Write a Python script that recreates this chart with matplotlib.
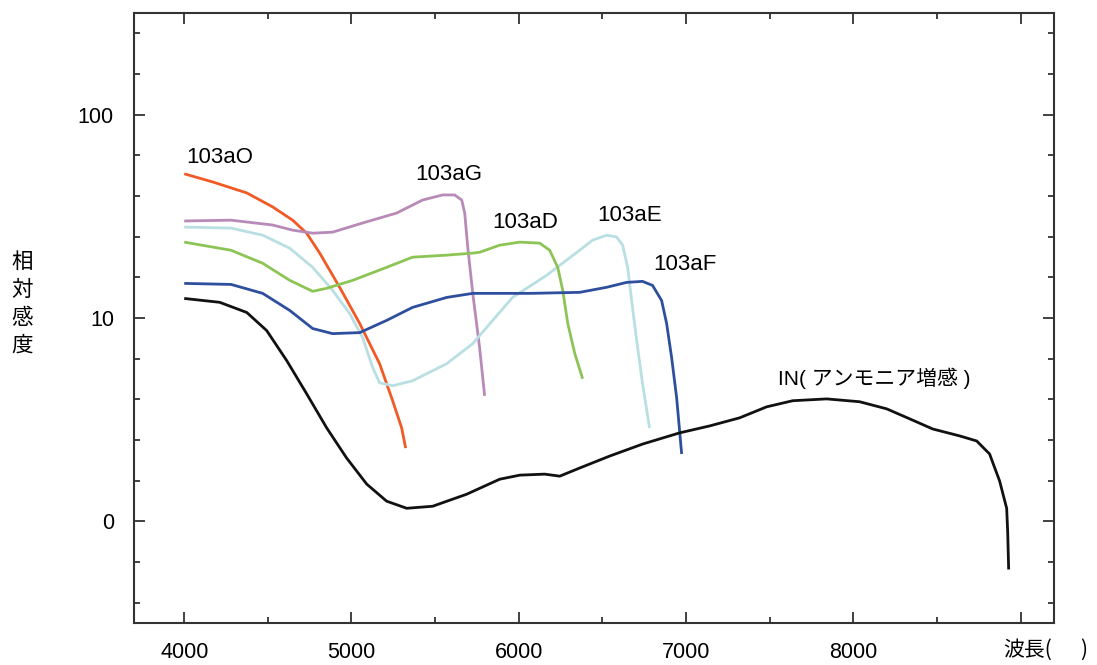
import matplotlib
matplotlib.use("Agg")
import matplotlib.pyplot as plt
from matplotlib.ticker import MultipleLocator, FixedLocator

plt.rcParams["font.family"] = ["Liberation Sans", "Noto Sans CJK JP", "DejaVu Sans"]

# y values are in decades: 0 -> "0", 1 -> "10", 2 -> "100"
wl_aO = [4000, 4170, 4374, 4529, 4648, 4732, 4810, 4929, 5049, 5168, 5246, 5300, 5324]
s_aO = [1.709, 1.669, 1.615, 1.546, 1.481, 1.417, 1.319, 1.151, 0.973, 0.775, 0.593, 0.459, 0.360]

wl_aG = [4000, 4280, 4529, 4648, 4768, 4887, 5066, 5270, 5425, 5545, 5617, 5659, 5677,
         5695, 5725, 5766, 5796]
s_aG = [1.477, 1.481, 1.457, 1.432, 1.417, 1.422, 1.467, 1.516, 1.580, 1.605, 1.605, 1.580, 1.516,
        1.348, 1.121, 0.854, 0.617]

wl_aE = [4000, 4280, 4469, 4631, 4768, 4887, 4989, 5066, 5127, 5168, 5246, 5365, 5569, 5725,
         5844, 5963, 6167, 6364, 6442, 6526, 6585, 6621, 6651, 6675, 6705, 6740, 6782]
s_aE = [1.447, 1.442, 1.407, 1.343, 1.249, 1.136, 1.022, 0.904, 0.756, 0.681, 0.667, 0.691, 0.775, 0.874,
        0.988, 1.101, 1.210, 1.333, 1.383, 1.407, 1.398, 1.358, 1.249, 1.086, 0.889, 0.677, 0.459]

wl_aD = [4000, 4280, 4469, 4631, 4768, 4852, 5007, 5210, 5365, 5569, 5725, 5766, 5886, 6006,
         6125, 6185, 6233, 6263, 6293, 6335, 6382]
s_aD = [1.373, 1.333, 1.269, 1.185, 1.131, 1.146, 1.185, 1.249, 1.299, 1.309, 1.319, 1.323, 1.358, 1.373,
        1.368, 1.333, 1.249, 1.136, 0.973, 0.825, 0.701]

wl_aF = [4000, 4280, 4469, 4631, 4768, 4887, 5049, 5210, 5365, 5569, 5725, 5766, 6065, 6364,
         6526, 6645, 6740, 6800, 6854, 6884, 6914, 6944, 6974]
s_aF = [1.170, 1.165, 1.121, 1.037, 0.948, 0.923, 0.928, 0.988, 1.052, 1.101, 1.121, 1.121, 1.121, 1.126,
        1.151, 1.175, 1.180, 1.160, 1.086, 0.973, 0.805, 0.607, 0.331]

wl_IN = [4000, 4212, 4374, 4493, 4613, 4732, 4852, 4971, 5091, 5210, 5330, 5485, 5688, 5886,
         6006, 6155, 6245, 6364, 6544, 6741, 6962, 7141, 7321, 7482, 7638, 7841, 8038, 8200,
         8337, 8475, 8636, 8738, 8815, 8875, 8917, 8923, 8929]
s_IN = [1.096, 1.077, 1.027, 0.938, 0.790, 0.627, 0.459, 0.311, 0.183, 0.099, 0.064, 0.074, 0.133, 0.207,
        0.227, 0.232, 0.222, 0.262, 0.321, 0.380, 0.435, 0.469, 0.509, 0.563, 0.593, 0.602, 0.588, 0.553,
        0.504, 0.454, 0.420, 0.395, 0.331, 0.198, 0.064, -0.049, -0.237]

series = [
    (wl_aO, s_aO, "#f15a24"),
    (wl_aG, s_aG, "#b88ab8"),
    (wl_aE, s_aE, "#b9dfe3"),
    (wl_aD, s_aD, "#8dc456"),
    (wl_aF, s_aF, "#2e4f9e"),
    (wl_IN, s_IN, "#111111"),
]

labels = ["103aO", "103aG", "103aD", "103aE", "103aF", "IN( アンモニア増感 )"]
label_pos = [(4010, 1.79), (5380, 1.705), (5840, 1.47), (6470, 1.505), (6805, 1.265), (7550, 0.705)]
label_size = [16, 16, 16, 16, 16, 15]

y_ticks = [0, 1, 2]
y_ticklabels = ["0", "10", "100"]
x_ticks = [4000, 5000, 6000, 7000, 8000]

fig = plt.figure(figsize=(10.97, 6.65), dpi=100)
ax = fig.add_axes([0.1222, 0.0632, 0.8386, 0.9173])

for wl, s, c in series:
    ax.plot(wl, s, color=c, lw=2.0, solid_joinstyle="round", solid_capstyle="butt")

for txt, (x, y), fs in zip(labels, label_pos, label_size):
    ax.text(x, y, txt, fontsize=fs, ha="left", va="center")

ax.set_xlim(3700, 9200)
ax.set_ylim(-0.5, 2.5)
ax.xaxis.set_major_locator(FixedLocator(x_ticks + [9000]))
ax.set_xticklabels([str(v) for v in x_ticks] + [""])
ax.xaxis.set_minor_locator(MultipleLocator(500))
ax.yaxis.set_major_locator(FixedLocator(y_ticks))
ax.set_yticklabels(y_ticklabels)
ax.yaxis.set_minor_locator(MultipleLocator(0.2))

ax.tick_params(which="both", direction="in", top=True, right=True, color="#333333", width=1.3)
ax.tick_params(which="major", length=8, labelsize=15.5)
ax.tick_params(which="minor", length=4)
ax.tick_params(axis="x", which="major", pad=14)
ax.tick_params(axis="y", which="major", pad=14.5)
for sp in ax.spines.values():
    sp.set_color("#333333")
    sp.set_linewidth(1.5)

fig.text(22 / 1097, 1 - 304 / 665, "相\n対\n感\n度", fontsize=15.5, ha="center", va="center",
         linespacing=1.35, family=["Noto Sans CJK JP"])
fig.text(1003 / 1097, 1 - 650 / 665, "波長(", fontsize=15, ha="left", va="center",
         family=["Noto Sans CJK JP"])
fig.text(1080 / 1097, 1 - 650 / 665, ")", fontsize=15, ha="left", va="center",
         family=["Noto Sans CJK JP"])

fig.savefig("out.png", dpi=100)
